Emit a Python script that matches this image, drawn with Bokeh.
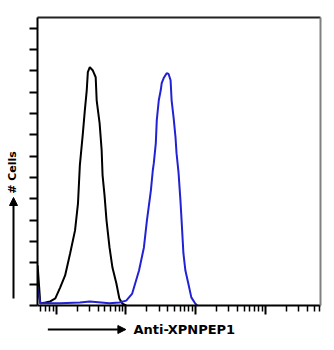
import math
from bokeh.plotting import figure
from bokeh.layouts import row, column
from bokeh.models import Range1d, FixedTicker, LinearAxis, Arrow, NormalHead
from bokeh.core.properties import value
from bokeh.embed import file_html
from bokeh.resources import INLINE

# Isotype control histogram (black): fluorescence intensity vs cell count
ctrl_x = [5.4, 5.9, 7.0, 8.2, 9.7, 11.4, 13.4, 15.8, 18.6, 20.5, 21.8, 24.1, 25.7, 27.4,
          28.4, 30.3, 33.3, 36.8, 38.0, 41.9, 44.8, 46.2, 49.3, 52.6, 58.1, 64.0, 72.9,
          80.4, 88.7, 101]
ctrl_y = [1.88, 0.10, 0.14, 0.19, 0.33, 0.85, 1.41, 2.44, 3.52, 4.79, 6.57, 8.08, 9.15, 10.1,
          10.94, 11.17, 11.03, 10.7, 9.62, 8.54, 7.28, 6.10, 5.16, 3.99, 2.72, 1.78, 1.03,
          0.33, 0.09, 0.0]

# Anti-XPNPEP1 stained histogram (blue)
stain_x = [5.4, 5.9, 11.4, 21.8, 30.3, 58.1, 80.4, 101, 123, 154, 181, 200, 228, 243, 251,
           268, 277, 296, 316, 326, 348, 384, 409, 437, 452, 482, 514, 532, 568, 605, 625,
           668, 713, 785, 867, 986, 1054]
stain_y = [0.80, 0.10, 0.10, 0.14, 0.19, 0.10, 0.14, 0.23, 0.56, 1.64, 2.72, 3.99, 5.40, 6.34,
           6.67, 7.60, 8.69, 9.62, 10.10, 10.42, 10.66, 10.89, 10.85, 10.56, 9.62, 8.83, 7.89,
           7.14, 6.24, 4.93, 4.13, 2.44, 1.64, 1.03, 0.38, 0.09, 0.0]

x_major = [10, 100, 1000, 10000]
x_minor = [m * d for d in [1, 10, 100, 1000, 10000] for m in range(2, 10)]
y_ticks = list(range(0, 14))

x_label = "Anti-XPNPEP1"
y_label = "# Cells"


def hide_labels(ax):
    ax.major_label_text_font_size = "1px"
    ax.major_label_text_alpha = 0
    ax.major_label_standoff = 0


# ---------------- main histogram ----------------
p = figure(width=301, height=316, output_backend="svg", toolbar_location=None,
           x_axis_type="log", x_range=Range1d(5.38, 61900), y_range=Range1d(0, 13.5),
           min_border_left=12, min_border_right=2, min_border_top=17, min_border_bottom=11)
p.grid.visible = False
p.outline_line_color = None
p.background_fill_color = "white"
p.border_fill_color = "white"

xa = p.xaxis[0]
xa.ticker = FixedTicker(ticks=x_major, minor_ticks=x_minor)
xa.axis_line_width = 2
xa.axis_line_color = "black"
xa.major_tick_out = 9
xa.major_tick_in = 0
xa.minor_tick_out = 6
xa.minor_tick_in = 0
xa.major_tick_line_width = 2
xa.minor_tick_line_width = 1.5
xa.major_tick_line_color = "black"
xa.minor_tick_line_color = "black"
hide_labels(xa)

ya = p.yaxis[0]
ya.ticker = FixedTicker(ticks=y_ticks)
ya.axis_line_width = 2
ya.axis_line_color = "black"
ya.major_tick_out = 8
ya.major_tick_in = 0
ya.minor_tick_line_color = None
ya.major_tick_line_width = 2
ya.major_tick_line_color = "black"
hide_labels(ya)

top = LinearAxis(axis_line_width=2, axis_line_color="#222222", major_tick_line_color=None,
                 minor_tick_line_color=None)
hide_labels(top)
right = LinearAxis(axis_line_width=2, axis_line_color="#808080", major_tick_line_color=None,
                   minor_tick_line_color=None)
hide_labels(right)
p.add_layout(top, "above")
p.add_layout(right, "right")

p.line(ctrl_x, ctrl_y, line_color="black", line_width=2)
p.line(stain_x, stain_y, line_color="#2222d4", line_width=2)


def blank(width, height):
    f = figure(width=width, height=height, output_backend="svg", toolbar_location=None,
               x_range=Range1d(0, width), y_range=Range1d(0, height),
               x_axis_location=None, y_axis_location=None,
               min_border_left=0, min_border_right=0, min_border_top=0, min_border_bottom=0)
    f.grid.visible = False
    f.outline_line_color = None
    f.background_fill_color = "white"
    f.border_fill_color = "white"
    return f


# ---------------- x title strip (below) ----------------
b = blank(301, 26)
b.add_layout(Arrow(end=NormalHead(size=8, fill_color="black", line_color="black"),
                   x_start=11, y_start=13, x_end=94, y_end=13,
                   line_width=2, line_color="black"))
b.text(x=[102], y=[13], text=[x_label], text_font=value("DejaVu Sans"),
       text_font_style="bold", text_font_size="13px", text_baseline="middle",
       text_align="left", text_color="black")

# ---------------- y title strip (left) ----------------
l = blank(25, 342)
l.add_layout(Arrow(end=NormalHead(size=8, fill_color="black", line_color="black"),
                   x_start=13, y_start=44, x_end=13, y_end=145,
                   line_width=2, line_color="black"))
l.text(x=[12], y=[170], text=[y_label], angle=math.pi / 2, text_font=value("DejaVu Sans"),
       text_font_style="bold", text_font_size="11px", text_baseline="middle",
       text_align="center", text_color="black")

layout = row(l, column(p, b, spacing=0), spacing=0)

open("out.html", "w").write(file_html(layout, INLINE))
